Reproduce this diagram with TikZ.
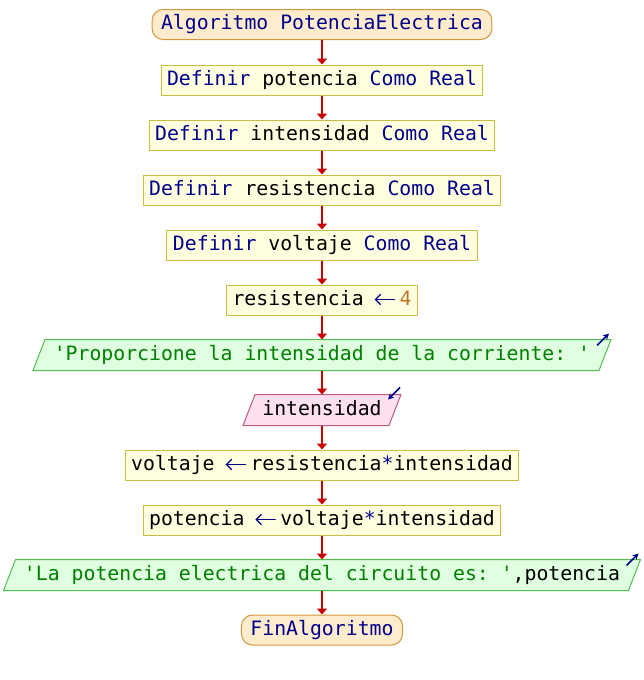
\documentclass[tikz,border=0pt]{standalone}
\usepackage{fontspec}
\setmonofont{DejaVu Sans Mono}
\usetikzlibrary{arrows.meta,calc,backgrounds}

\definecolor{kw}{RGB}{0,0,140}
\definecolor{str}{RGB}{0,128,0}
\definecolor{num}{RGB}{190,120,40}
\definecolor{flow}{RGB}{200,0,0}
\definecolor{procfill}{RGB}{255,255,224}
\definecolor{procdraw}{RGB}{200,190,70}
\definecolor{termfill}{RGB}{255,236,204}
\definecolor{termdraw}{RGB}{210,150,60}
\definecolor{outfill}{RGB}{224,255,224}
\definecolor{outdraw}{RGB}{80,190,80}
\definecolor{infill}{RGB}{255,224,240}
\definecolor{indraw}{RGB}{190,90,130}

\newcommand{\kwd}[1]{{\color{kw}#1}}
\newcommand{\strg}[1]{{\color{str}#1}}
% assignment arrow: a thin long arrow occupying one character cell
\newcommand{\assignarrow}{\makebox[12pt]{\hspace*{6pt}\raisebox{5.5pt}{%
  \tikz[baseline=0pt]\draw[kw, line width=1.2pt, line cap=round,
    {Straight Barb[length=5pt,width=10pt,line cap=round]}-] (0pt,0pt) -- (20pt,0pt);}}}

\tikzset{
  base/.style={font=\fontsize{19.8}{24}\selectfont\ttfamily, text height=14pt,
    text depth=4pt, minimum height=30pt, inner xsep=6pt, inner ysep=0pt,
    line width=1pt},
  proc/.style={base, draw=procdraw, fill=procfill},
  term/.style={base, draw=termdraw, fill=termfill, rounded corners=11pt,
    inner xsep=9pt},
  iobox/.style={base},
  outshape/.style={draw=outdraw, fill=outfill, line width=1pt},
  inshape/.style={draw=indraw, fill=infill, line width=1pt},
  flowarrow/.style={draw=flow, line width=2pt,
    -{Triangle[width=10pt,length=6pt]}},
  hint/.style={draw=kw, line width=1.6pt, -{Stealth[length=6pt,width=6pt]}},
}

% parallelogram behind an io node
\newcommand{\slanted}[2]{%
  \begin{scope}[on background layer]
    \draw[#2] ($(#1.south west)+(-6,0)$) -- ($(#1.north west)+(6,0)$)
      -- ($(#1.north east)+(6,0)$) -- ($(#1.south east)+(-6,0)$) -- cycle;
  \end{scope}}

\begin{document}
\begin{tikzpicture}[x=1pt,y=-1pt]
  \useasboundingbox (0,0) rectangle (644,680);

  \node[term] (start) at (322,24.5) {\kwd{Algoritmo PotenciaElectrica}};
  \node[proc] (d1) at (322,80)  {\kwd{Definir} potencia \kwd{Como Real}};
  \node[proc] (d2) at (322,135) {\kwd{Definir} intensidad \kwd{Como Real}};
  \node[proc] (d3) at (322,190) {\kwd{Definir} resistencia \kwd{Como Real}};
  \node[proc] (d4) at (322,245) {\kwd{Definir} voltaje \kwd{Como Real}};
  \node[proc] (a1) at (322,300) {resistencia \assignarrow{} {\color{num}4}};
  \node[iobox, minimum width=565pt] (o1) at (322,355)
    {\strg{'Proporcione la intensidad de la corriente: '}};
  \node[iobox, minimum width=145pt] (i1) at (322,410) {intensidad};
  \node[proc] (a2) at (322,465) {voltaje \assignarrow{} resistencia\kwd{*}intensidad};
  \node[proc] (a3) at (322,520) {potencia \assignarrow{} voltaje\kwd{*}intensidad};
  \node[iobox, minimum width=624pt] (o2) at (322,575)
    {\strg{'La potencia electrica del circuito es: '},potencia};
  \node[term] (fin) at (322,630) {\kwd{FinAlgoritmo}};

  \slanted{o1}{outshape}
  \slanted{i1}{inshape}
  \slanted{o2}{outshape}

  % flow connectors
  \foreach \a/\b in {start/d1,d1/d2,d2/d3,d3/d4,d4/a1,a1/o1,o1/i1,i1/a2,a2/a3,a3/o2,o2/fin}
    \draw[flowarrow] (\a.south) -- (\b.north);

  % direction marks on the io shapes
  \coordinate (o1c) at ($(o1.north east)+(6,0)$);
  \coordinate (i1c) at ($(i1.north east)+(6,0)$);
  \coordinate (o2c) at ($(o2.north east)+(6,0)$);
  \coordinate (o1t) at ($(o1c)+(-14,6)$);
  \coordinate (o1h) at ($(o1c)+(-2,-6)$);
  \coordinate (i1t) at ($(i1c)+(-1,-7)$);
  \coordinate (i1h) at ($(i1c)+(-13,5)$);
  \coordinate (o2t) at ($(o2c)+(-14,6)$);
  \coordinate (o2h) at ($(o2c)+(-2,-6)$);
  \draw[hint] (o1t) -- (o1h);
  \draw[hint] (i1t) -- (i1h);
  \draw[hint] (o2t) -- (o2h);
\end{tikzpicture}
\end{document}
